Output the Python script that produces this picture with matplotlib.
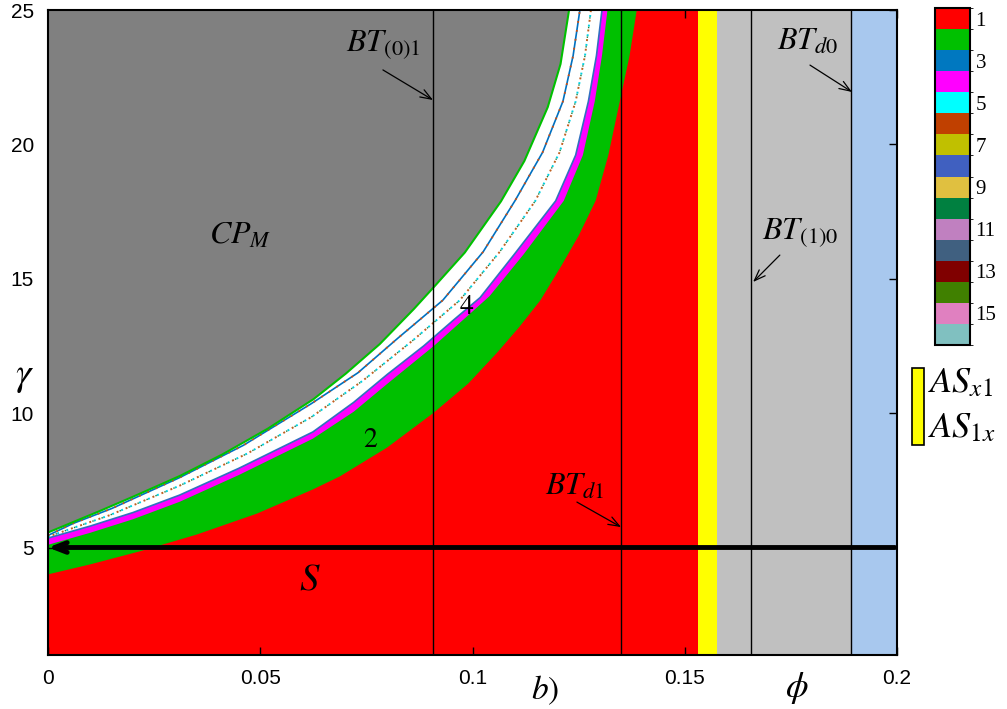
import numpy as np
import matplotlib as mpl
import matplotlib.pyplot as plt
from matplotlib.colors import ListedColormap, BoundaryNorm
from matplotlib.patches import Rectangle

plt.rcParams['mathtext.fontset'] = 'stix'
plt.rcParams['font.family'] = ['Liberation Sans', 'DejaVu Sans']

# vertical bands along phi
phi_yellow = [0.1531, 0.1576]
phi_lightblue = 0.1892
bt_lines = [0.0907, 0.135, 0.1656, 0.1892]

# region boundaries (phi, gamma)
red_edge_gam = [4.0, 4.37, 4.86, 5.48, 6.26, 7.16, 7.65, 8.72, 10.02, 11.1, 12.25,
                13.2, 14.2, 15.5, 16.6, 17.9, 19.6, 21.6, 23.3, 25.0]
red_edge_phi = [0.0, 0.0099, 0.0217, 0.035, 0.0492, 0.0624, 0.0688, 0.0799, 0.0909,
                0.099, 0.1058, 0.111, 0.116, 0.121, 0.125, 0.129, 0.132, 0.1347,
                0.137, 0.1387]

mag_lo_gam = [5.1, 5.55, 6.05, 6.7, 7.7, 9.05, 10.05, 11.1, 12.5, 13.5, 14.35, 15.9,
              17.9, 19.6, 21.6, 23.3, 25.0]
mag_lo_phi = [0.0, 0.010, 0.020, 0.031, 0.045, 0.0624, 0.072, 0.080, 0.0909, 0.098,
              0.104, 0.112, 0.1215, 0.126, 0.1288, 0.1305, 0.1318]

mag_hi_gam = [5.35, 5.8, 6.3, 6.95, 7.95, 9.3, 10.4, 11.45, 12.5, 13.5, 14.3, 15.9,
              17.9, 19.6, 21.6, 23.3, 25.0]
mag_hi_phi = [0.0, 0.010, 0.020, 0.031, 0.045, 0.0624, 0.072, 0.080, 0.0885, 0.0958,
              0.1018, 0.1098, 0.1196, 0.1243, 0.1273, 0.1292, 0.1305]

blue_gam = [5.45, 5.9, 6.45, 7.6, 8.8, 10.35, 11.5, 12.8, 14.2, 16.0, 17.9, 19.7,
            21.6, 23.3, 25.0]
blue_phi = [0.0, 0.006, 0.015, 0.031, 0.046, 0.062, 0.073, 0.0825, 0.093, 0.1025,
            0.110, 0.1165, 0.1213, 0.1237, 0.1253]

dots_gam = [5.4, 6.2, 7.3, 8.5, 9.85, 11.2, 12.7, 14.2, 16.0, 17.9, 19.7, 21.6,
            23.3, 25.0]
dots_phi = [0.0, 0.0145, 0.031, 0.047, 0.062, 0.0741, 0.0859, 0.097, 0.1064,
            0.1148, 0.1205, 0.1243, 0.1265, 0.1279]

gray_phi = [0.0, 0.0122, 0.020, 0.031, 0.041, 0.0516, 0.0624, 0.070, 0.078, 0.086,
            0.0909, 0.098, 0.1065, 0.112, 0.1175, 0.1205, 0.1225]
gray_gam = [5.6, 6.4, 6.93, 7.7, 8.5, 9.45, 10.55, 11.5, 12.6, 13.9, 14.75, 16.0,
            17.9, 19.4, 21.4, 23.0, 25.0]

# colorbar
cb_colors = ['#FF0000', '#00C000', '#0078C0', '#FF00FF', '#00FFFF', '#C04000',
             '#C0C000', '#4060C0', '#E0C040', '#008040', '#C080C0', '#406080',
             '#800000', '#408000', '#E080C0', '#80C0C0']
cb_ticks = [1, 3, 5, 7, 9, 11, 13, 15]

xticks = [0, 0.05, 0.1, 0.15, 0.2]
xticklabels = ['0', '0.05', '0.1', '0.15', '0.2']
yticks = [5, 10, 15, 20, 25]


def fill_upper_left(ax, phi, gam, color, z):
    ax.fill(list(phi) + [0], list(gam) + [25], color=color, lw=0, zorder=z)


fig = plt.figure(figsize=(10.07, 7.09), dpi=100)
ax = fig.add_axes([48/1007, 54/709, 849/1007, 645/709])

ax.axvspan(0, phi_yellow[0], color='#FF0000', lw=0, zorder=0)
ax.axvspan(phi_yellow[0], phi_yellow[1], color='#FFFF00', lw=0, zorder=0)
ax.axvspan(phi_yellow[1], phi_lightblue, color='#C0C0C0', lw=0, zorder=0)
ax.axvspan(phi_lightblue, 0.2, color='#A8C8EE', lw=0, zorder=0)

fill_upper_left(ax, red_edge_phi, red_edge_gam, '#00C000', 1)
fill_upper_left(ax, mag_lo_phi, mag_lo_gam, '#FF00FF', 2)
fill_upper_left(ax, mag_hi_phi, mag_hi_gam, 'white', 3)
ax.plot(mag_hi_phi, mag_hi_gam, color='#3070C0', lw=1.2, zorder=3.5)

# chaotic band texture
ax.plot(blue_phi, blue_gam, color='#0070C0', lw=1.2, zorder=4)
ax.plot(blue_phi, blue_gam, color='#D05010', lw=1.3, ls=(0, (1, 4)), zorder=4.1)
ax.plot(dots_phi, dots_gam, color='#00D0E0', lw=1.4, ls=(0, (1, 4)), zorder=4)
ax.plot(dots_phi, dots_gam, color='#C06020', lw=1.4, ls=(2.5, (1, 4)), zorder=4)
ax.plot(dots_phi, dots_gam, color='#208040', lw=1.0, ls=(1.2, (1, 6)), zorder=4)

ax.plot(gray_phi, gray_gam, color='#00C000', lw=3, zorder=5)
fill_upper_left(ax, gray_phi, gray_gam, '#808080', 6)

for p in bt_lines:
    ax.axvline(p, color='black', lw=1, zorder=7)

ax.annotate('', xy=(0.0, 5.0), xytext=(0.1995, 5.0),
            arrowprops=dict(arrowstyle='->,head_length=0.9,head_width=0.35',
                            lw=3.5, color='black', shrinkA=0, shrinkB=0),
            zorder=8)

ax.set_xlim(0, 0.2)
ax.set_ylim(1, 25)
ax.set_xticks(xticks)
ax.set_xticklabels(xticklabels)
ax.set_yticks(yticks)
ax.tick_params(direction='in', top=True, right=True, length=6, width=1,
               labelsize=15, pad=10)
for s in ax.spines.values():
    s.set_linewidth(1.5)
    s.set_zorder(10)

tkw = dict(fontsize=23, ha='center', va='center', zorder=9)
ax.text(0.0452, 16.6, r'$CP_M$', **tkw)
ax.text(0.0789, 23.7, r'$BT_{(0)1}$', **tkw)
ax.text(0.1790, 23.8, r'$BT_{d0}$', **tkw)
ax.text(0.1771, 16.7, r'$BT_{(1)0}$', **tkw)
ax.text(0.1241, 7.25, r'$BT_{d1}$', **tkw)
ax.text(0.0759, 9.0, r'$2$', fontsize=20, ha='center', va='center', zorder=9)
ax.text(0.0987, 13.95, r'$4$', fontsize=20, ha='center', va='center', zorder=9)
ax.text(0.0617, 3.8, r'$S$', fontsize=28, ha='center', va='center', zorder=9)

akw = dict(arrowstyle='->,head_length=0.8,head_width=0.3', lw=0.9, color='black',
           shrinkA=0, shrinkB=0)
ax.annotate('', xy=(0.0907, 21.65), xytext=(0.0789, 22.77), arrowprops=akw, zorder=9)
ax.annotate('', xy=(0.1894, 21.95), xytext=(0.1795, 22.95), arrowprops=akw, zorder=9)
ax.annotate('', xy=(0.1661, 14.88), xytext=(0.1724, 15.88), arrowprops=akw, zorder=9)
ax.annotate('', xy=(0.1350, 5.76), xytext=(0.1246, 6.69), arrowprops=akw, zorder=9)

fig.text(0.541, 0.027, r'$b)$', fontsize=24, ha='center', va='center')
fig.text(0.791, 0.030, r'$\phi$', fontsize=26, ha='center', va='center')
fig.text(0.024, 0.468, r'$\gamma$', fontsize=28, ha='center', va='center')

# discrete colorbar
cax = fig.add_axes([935/1007, 364/709, 35/1007, 337/709])
cmap = ListedColormap(cb_colors)
norm = BoundaryNorm(np.arange(0.5, len(cb_colors) + 1.5), cmap.N)
cb = fig.colorbar(mpl.cm.ScalarMappable(norm=norm, cmap=cmap), cax=cax, ticks=cb_ticks)
cax.invert_yaxis()
cax.tick_params(length=0, labelsize=15, pad=4)
for lab in cax.get_yticklabels():
    lab.set_family('Liberation Serif')
cb.outline.set_linewidth(1.5)

# yellow band legend
fig.patches.append(Rectangle((912/1007, 264/709), 12/1007, 77/709,
                             transform=fig.transFigure, facecolor='#FFFF00',
                             edgecolor='black', lw=1.2))
fig.text(928/1007, 1 - 383/709, r'$AS_{x1}$', fontsize=26, ha='left', va='center')
fig.text(928/1007, 1 - 428/709, r'$AS_{1x}$', fontsize=26, ha='left', va='center')

fig.savefig('out.png', dpi=100)
